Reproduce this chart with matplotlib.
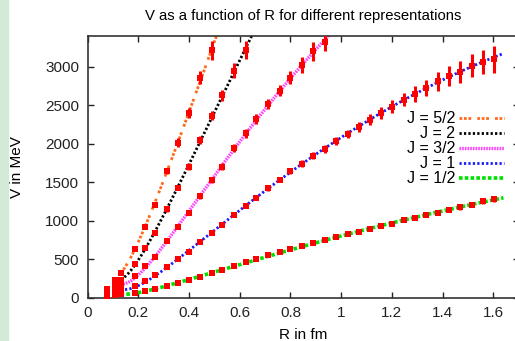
import numpy as np
import matplotlib
matplotlib.use("Agg")
import matplotlib.pyplot as plt
from matplotlib.patches import Rectangle

plt.rcParams['font.family'] = ['Liberation Sans', 'DejaVu Sans']

# separations (fm); the first two are the short-distance points
r_short = [0.078, 0.108]
r_vals = [0.133, 0.185, 0.226, 0.264, 0.313, 0.357, 0.399, 0.445, 0.490, 0.531,
          0.578, 0.623, 0.666, 0.712, 0.757, 0.800, 0.845, 0.890, 0.935, 0.979,
          1.025, 1.069, 1.113, 1.158, 1.202, 1.246, 1.290, 1.335, 1.380, 1.424,
          1.469, 1.514, 1.558, 1.602]

# potential (MeV) per representation, with errors
v_half = [10, 30, 45, 57, 89, 110, 152, 187, 227, 273, 317, 365, 416, 459, 498, 550,
          589, 628, 671, 710, 745, 784, 823, 853, 898, 931, 961, 1005, 1039, 1070,
          1100, 1139, 1174, 1208, 1252, 1286]
e_half = [2, 3, 3, 4, 4, 5, 5, 6, 7, 7, 8, 9, 10, 10, 11, 12, 13, 14, 15, 16, 17, 18,
          19, 20, 21, 22, 23, 24, 26, 27, 28, 30, 32, 34, 37, 40]

v_one = [35, 60, 90, 152, 221, 291, 397, 498, 594, 723, 836, 948, 1078, 1195, 1299,
         1421, 1532, 1645, 1740, 1842, 1928, 2038, 2126, 2210, 2312, 2395, 2481, 2572,
         2647, 2720, 2808, 2875, 2926, 3011, 3064, 3092]
e_one = [4, 5, 6, 8, 10, 12, 14, 16, 18, 20, 22, 24, 26, 28, 30, 32, 35, 38, 43, 45,
         50, 50, 54, 65, 69, 78, 87, 87, 101, 108, 123, 134, 141, 151, 156, 173]

v_three_half = [60, 100, 155, 280, 410, 533, 734, 916, 1094, 1316, 1524, 1702, 1940,
                2135, 2317, 2514, 2688, 2857, 3022, 3195, 3312]
e_three_half = [5, 6, 8, 10, 12, 15, 18, 22, 26, 30, 35, 40, 50, 58, 65, 71, 76, 87,
                108, 119, 117]

v_two = [85, 160, 230, 438, 641, 836, 1148, 1429, 1702, 2044, 2360, 2628, 2948, 3212]
e_two = [5, 8, 10, 15, 20, 25, 30, 35, 45, 55, 60, 70, 97, 113]

v_five_half = [113, 235, 325, 632, 922, 1204, 1640, 2013, 2395, 2855, 3208]
e_five_half = [5, 8, 10, 15, 20, 25, 35, 54, 65, 87, 120]

labels = ["J = 5/2", "J = 2", "J = 3/2", "J = 1", "J = 1/2"]
values = [v_five_half, v_two, v_three_half, v_one, v_half]
errors = [e_five_half, e_two, e_three_half, e_one, e_half]
colors = ["#ff6a1c", "#000000", "#ff44ff", "#1a1aff", "#00e000"]
dashes = [(1, 0.6, 1, 0.6, 1, 2.2), (0.8, 0.8), (0.5, 0.3), (0.8, 0.8), (1, 0.6)]
widths = [2.0, 2.0, 2.4, 2.0, 2.6]


def smooth_fit(r, v):
    # V(R) = a + s*R + q*R^2 + c/R, least squares through the points
    r = np.asarray(r)
    v = np.asarray(v)
    basis = np.column_stack([np.ones_like(r), r, r ** 2, 1.0 / r])
    coef, *_ = np.linalg.lstsq(basis, v, rcond=None)
    return coef


fig = plt.figure(figsize=(5.15, 3.41), dpi=100)
fig.patches.append(Rectangle((0, 0), 7.5 / 515, 1, transform=fig.transFigure,
                             color="#d2ead6", zorder=0))
ax = fig.add_axes([87.6 / 515, 43.3 / 341, 431.1 / 515, 262.0 / 341])

r_all = r_short + r_vals
r_line = np.linspace(0.13, 1.64, 300)
handles = []
for v, e, c, d, w, lab in zip(values, errors, colors, dashes, widths, labels):
    n = len(v)
    r = np.array(r_all[:n])
    coef = smooth_fit(r[2:], v[2:])
    fit = coef[0] + coef[1] * r_line + coef[2] * r_line ** 2 + coef[3] / r_line
    line, = ax.plot(r_line, fit, color=c, lw=w, dashes=d, dash_capstyle="butt",
                    label=lab, zorder=2)
    handles.append(line)
    ax.errorbar(r, v, yerr=e, fmt="s", color="#ff0000", ms=3.8, mew=0,
                elinewidth=2.2, capsize=2.0, capthick=2.2, zorder=3)

ax.set_xlim(0, 1.7)
ax.set_ylim(0, 3400)
ax.set_xticks(np.arange(0, 1.61, 0.2))
ax.set_xticklabels(["0", "0.2", "0.4", "0.6", "0.8", "1", "1.2", "1.4", "1.6"])
ax.set_yticks(np.arange(0, 3001, 500))
ax.tick_params(direction="in", length=4, width=1, labelsize=11, top=True,
               right=True, pad=6, colors="#222222")
for s in ax.spines.values():
    s.set_linewidth(1.2)
    s.set_color("#333333")

ax.set_title("V as a function of R for different representations", fontsize=10.7,
             pad=11)
ax.set_xlabel("R in fm", fontsize=11, labelpad=6)
ax.set_ylabel("V in MeV", fontsize=11, labelpad=15)

ax.legend(handles=handles, loc="upper right", bbox_to_anchor=(0.966, 0.712),
          frameon=False, markerfirst=False, fontsize=11.5, handlelength=2.8,
          handletextpad=0.25, labelspacing=0.0, borderpad=0, borderaxespad=0)

fig.savefig("out.png", dpi=100)
